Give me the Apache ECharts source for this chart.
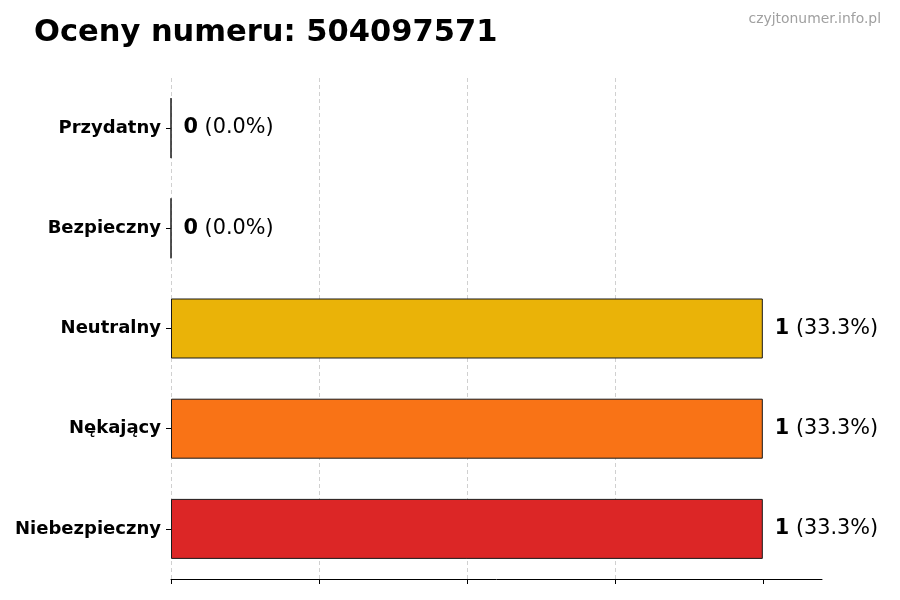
<!DOCTYPE html>
<html lang="pl">
<head>
    <meta charset="UTF-8">
    <title>Oceny numeru</title>
    <script src="https://cdn.jsdelivr.net/npm/echarts@6/dist/echarts.min.js"></script>
</head>
<body style="margin:0">
<div id="main" style="height: 600px;width: 900px"></div>

<script>
    var categories = ['Niebezpieczny', 'Nękający', 'Neutralny', 'Bezpieczny', 'Przydatny'];
    var counts = [1, 1, 1, 0, 0];
    var percents = ['33.3%', '33.3%', '33.3%', '0.0%', '0.0%'];
    var colors = ['#DC2626', '#F97316', '#EAB308', '#22C55E', '#16A34A'];
    var xTicks = [0, 0.25, 0.5, 0.75, 1];

    var myChart = echarts.init(document.getElementById('main'));

    var barData = [];
    for (var i = 0; i < counts.length; i++) {
        barData.push({
            value: counts[i],
            itemStyle: { color: colors[i] }
        });
    }

    var option = {
        animation: false,
        textStyle: { fontFamily: 'DejaVu Sans' },
        title: [
            {
                text: 'Oceny numeru: 504097571',
                left: 29,
                top: 13,
                textStyle: { fontSize: 30.5, fontWeight: 'bold', color: '#000', fontFamily: 'DejaVu Sans' }
            },
            {
                text: 'czyjtonumer.info.pl',
                right: 14,
                top: 7,
                textStyle: { fontSize: 13.9, fontWeight: 'normal', color: '#a0a0a0', fontFamily: 'DejaVu Sans' }
            }
        ],
        grid: { left: 171, right: 78, top: 78, bottom: 21 },
        xAxis: {
            type: 'value',
            min: 0,
            max: 1.1,
            interval: 0.25,
            axisLine: { show: true, lineStyle: { color: '#000', width: 1 } },
            axisTick: { show: true, length: 5, customValues: xTicks, lineStyle: { color: '#000' } },
            axisLabel: { show: false },
            splitLine: {
                show: true,
                showMaxLine: false,
                lineStyle: { color: '#d0d0d0', type: [4, 3], width: 1 }
            }
        },
        yAxis: {
            type: 'category',
            data: categories,
            axisLine: { show: false },
            axisTick: { show: true, length: 5, alignWithLabel: true, lineStyle: { color: '#000' } },
            axisLabel: { fontSize: 18, fontWeight: 'bold', color: '#000', margin: 10, padding: [3, 0, 0, 0], fontFamily: 'DejaVu Sans' }
        },
        series: [
            {
                type: 'bar',
                data: barData,
                barWidth: 60,
                itemStyle: { borderColor: '#1a1a1a', borderWidth: 1 },
                label: {
                    show: true,
                    position: 'right',
                    distance: 12,
                    formatter: function (p) {
                        return '{b|' + counts[p.dataIndex] + '}{n| (' + percents[p.dataIndex] + ')}';
                    },
                    rich: {
                        b: { fontSize: 20.8, fontWeight: 'bold', color: '#000', fontFamily: 'DejaVu Sans' },
                        n: { fontSize: 20.8, color: '#000', fontFamily: 'DejaVu Sans' }
                    }
                }
            }
        ]
    };

    myChart.setOption(option);
</script>
</body>
</html>
